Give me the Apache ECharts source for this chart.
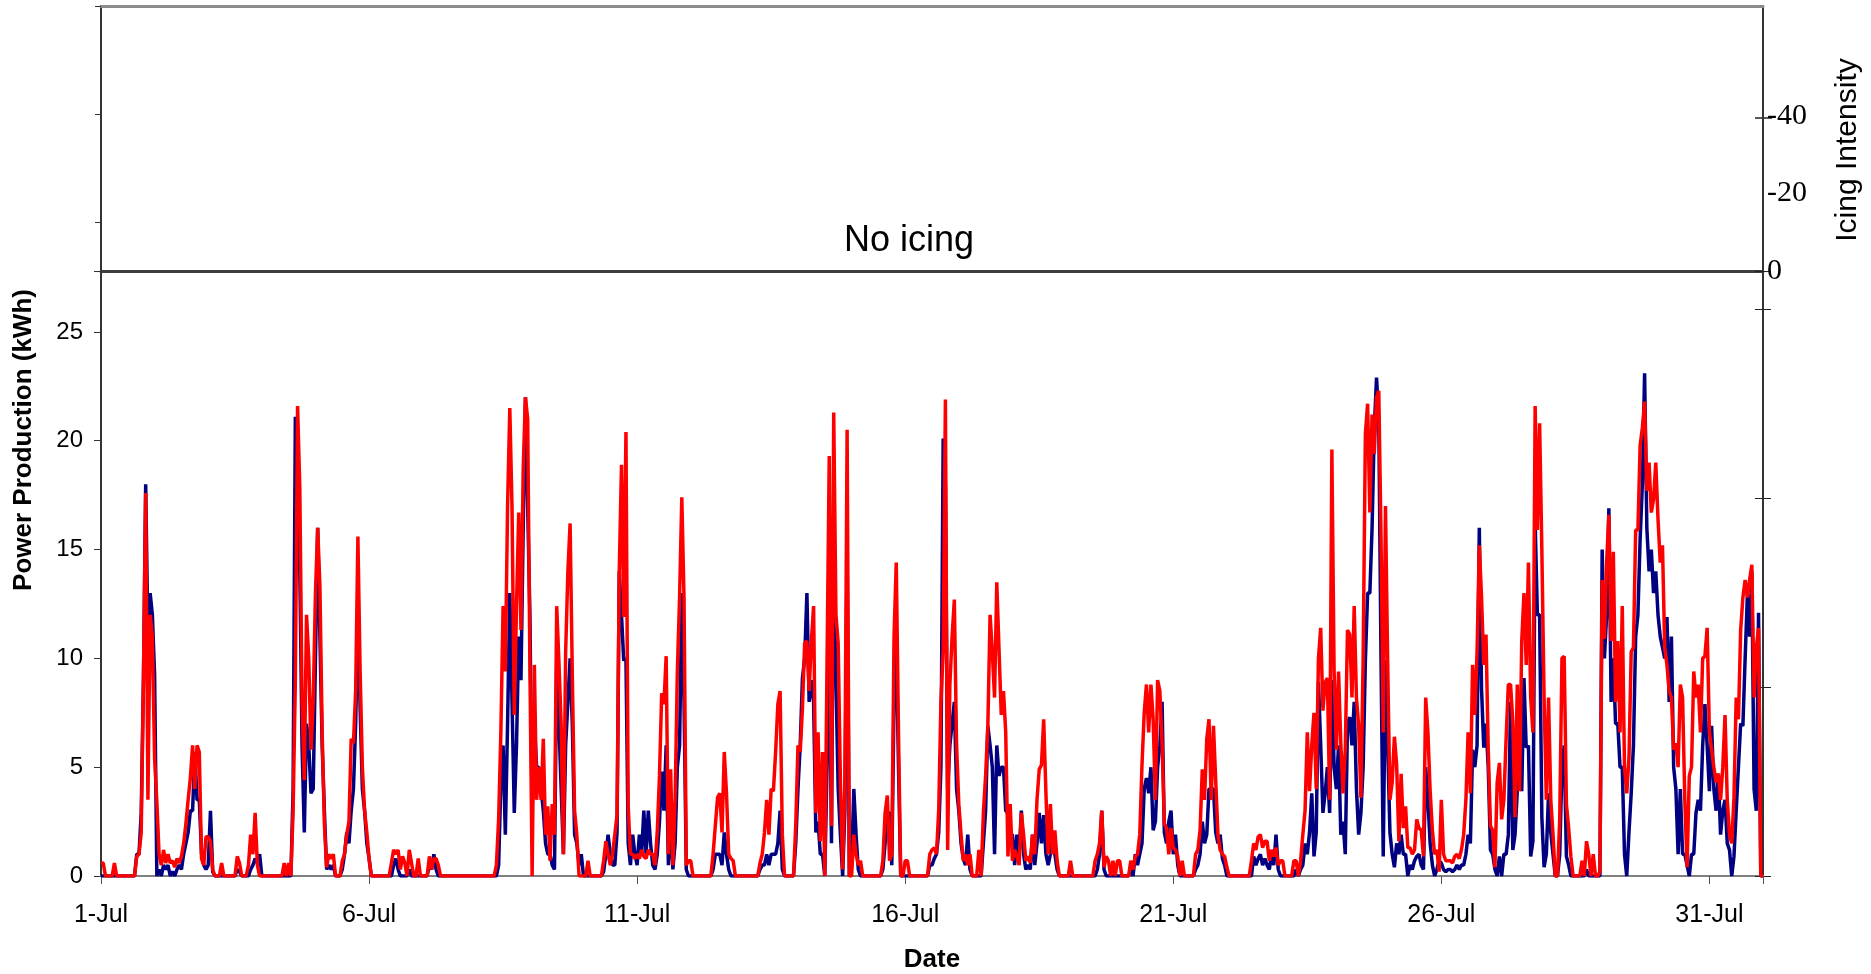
<!DOCTYPE html>
<html>
<head>
<meta charset="utf-8">
<title>Power production and icing, July</title>
<script src="https://cdn.jsdelivr.net/npm/echarts@6.0.0/dist/echarts.min.js"></script>
<style>
  html, body { margin: 0; padding: 0; background: #fff; }
  #chart { width: 1871px; height: 974px; }
</style>
</head>
<body>
<div id="chart"></div>
<script>
// hourly values, starting 1-Jul 00:00 (one row = one day)
const stepHours = 1;
const dateTicks = ['1-Jul', '6-Jul', '11-Jul', '16-Jul', '21-Jul', '26-Jul', '31-Jul'];
const icingTicks = ['0', '-20', '-40'];

// navy series (drawn underneath)
const productionBlue = [
  0,0,0,0,0,0,0,0,0,0,0,0,0,0,0,0,1.0,1.0,2.9,9,18,11,13,12,
  9.2,0,0.3,0,0.5,0.3,0.5,0,0.2,0,0.3,0.5,0.3,1.0,1.5,2,3.0,3.0,5.7,3.5,3.5,1.0,0.5,0.3,
  0.5,3.0,0.2,0,0,0,0,0,0,0,0,0,0,0.3,0.2,0,0,0,0,0.3,0.5,0.8,0.6,1.0,
  0,0,0,0,0,0,0,0,0,0,0,0,0,0,4,21.1,19,14,6,2.0,7,6,3.8,4,
  10,16,11,6,3,0.3,0.5,0.3,0.5,0,0,0,0.3,1.0,2.0,1.5,3.0,4.0,7.0,12,7.7,4,3,1.5,
  0.8,0,0,0,0,0,0,0,0,0,0,0.5,0.8,0.3,0,0,0,0,0.3,0,0,0,0,0,
  0,0,0,0.5,0.3,1.0,0.3,0,0,0,0,0,0,0,0,0,0,0,0,0,0,0,0,0,
  0,0,0,0,0,0,0,0,0,0,0.5,4.3,6,1.9,7,13,8,2.9,6,11,9,16,22,17,
  12,3,7,5,5,4,3,1.5,1.0,1.0,0.5,0.3,9.8,7,4,1.0,6,8,10,6.9,1.9,1.5,0.5,1.0,
  0,0,0,0,0,0,0,0,0,0.2,1.0,1.9,1.0,0.5,0.5,2.0,14,12,9.9,10,1.5,0.5,1.9,1.0,
  0.5,1.9,1.0,3.0,1.0,3.0,1.5,0.5,0.3,1.0,2.5,4.8,3,6,0.5,2.5,0.3,1.5,5,6,13,8,0.3,0,
  0,0,0,0,0,0,0,0,0,0,0.3,1.0,1.0,1.0,0.5,2,1.0,0.3,0,0,0,0,0,0,
  0,0,0,0,0,0,0,0.3,0.5,0.5,1.0,0.5,1.0,1.0,1.0,1.5,3.0,0.3,0,0,0,0,0,1.5,
  4,6,9.1,10,13,8,9,8,2,2.5,1.0,1.0,0,5,12,1.5,17.5,9,4,1.9,0,3,15,0,
  0.5,4,1.9,0.3,0,0,0,0,0,0,0,0,0,0,0.3,1.5,2.9,2.9,0.5,8,11,5,0,0,
  0,0,0,0,0,0,0,0,0,0,0,0.5,0.5,0.8,1.0,2,5,20.1,18,4,6,7,8,4,
  3,1.5,0.8,0.5,1.9,0.3,0,0,0,0,0,1.5,3,6.9,6,5,1.0,6,4.6,5,5,3,2.9,1.9,
  1.9,0.5,1.9,1.0,3,1.0,0.3,0.5,0.3,1.9,0.5,1.5,2.9,1.5,2.8,1.0,0.5,1.0,1.9,1.0,0.3,0,0,0,
  0,0,0,0,0,0,0,0,0,0,0,0,0,0,0.3,1.0,3,0.3,0,0,0,0,0,0,
  0,0,0,0,0,0.3,0,1.0,0.5,1.0,1.5,4,4.5,3.8,5,2.1,2.5,5,6,8,2.0,1.5,2.5,3,
  1.0,1.9,0.5,0,0,0,0,0,0,0,0.3,0.5,1.0,2.5,1.5,1.9,4,4,4,2,1.5,1.9,0.8,0.5,
  0,0,0,0,0,0,0,0,0,0,0,0,0.9,0.5,0.8,1.0,0.5,0.8,0.5,0.3,1.0,0.5,1.9,0.3,
  0,0,0,0,0,0,0,0.3,0,0.3,0.5,1.5,1.0,2,3.8,0.9,2,8.9,6,2.9,3.8,5,2.9,9,
  5,4,6,1.9,2.5,1.0,7,7.3,6,8,4,1.9,2.9,5,9.9,13,13,16,20.6,22.9,21,10,0.9,9.9,
  6,2,1.0,0.4,1.5,1.0,1.9,1.0,1.0,0,0.5,0.3,0.7,0.9,1.0,0.5,0.3,5,3.5,1.5,0.5,0,0.3,0.7,
  0.6,0.3,0.2,0.3,0.3,0.2,0.3,0.5,0.3,0.5,0.5,1.0,1.9,1.5,5.8,5,6,16,8.6,5.9,7,5,1.2,1.0,
  0.3,0,0.9,0,1.0,1.0,1.9,8,1.2,1.9,3.9,5.8,3.9,9.1,5.9,6,0.9,1.6,16.3,12,12,2.7,0.4,1.0,
  3.8,2,1.0,0,0,1.0,5,6,0.9,0.5,0,0,0,0,0,0,0,0.3,0,0,0,0,0,0,
  15,10,12,16.9,8,10,7,7,5,5,1.0,0,2,3.8,6,11,12,15.5,18,23.1,16,14,15,13,
  14,12,11,10.5,10,11.9,8,11,5,4,1.0,4,1.0,1.0,0.5,0,1.0,1.0,2.9,3.5,3.0,6,7.9,6,
  3.9,6.9,4,3,4.7,1.9,3,3.5,1.5,1.2,0,0.9,3.0,5,7,6.9,10,12.9,11,14,4,3,12.1,0,
  0
];

// red series (drawn on top)
const productionRed = [
  0.6,0.6,0,0,0,0,0.6,0,0,0,0,0,0,0,0,0,0.9,1.0,2.0,9,17.6,3.5,12,11,
  5.4,3.4,1.0,0.5,1.2,0.6,1.0,0.6,0.7,0.4,0.8,0.6,0.9,1.5,2.4,3.5,4.5,6.0,4.0,6.0,5.7,0.8,0.5,1.8,
  1.8,1.6,0.3,0,0,0,0.6,0,0,0,0,0,0,0.9,0.6,0,0,0,0.5,1.9,1.0,2.9,0.5,0,
  0,0,0,0,0,0,0,0,0,0,0.6,0,0.6,0,3,9,21.6,17.8,8,4.4,12,10,5.8,8,
  13,16,13.3,6.6,2.4,0.4,1.0,0.8,1.0,0,0,0,0.7,1.0,1.9,2.5,6.3,6.1,8.5,15.6,9.4,5,3,2,
  0.8,0,0,0,0,0,0,0,0,0,0.6,1.2,1.0,1.2,0.3,0.9,0.6,0,1.2,0.6,0,0,0.8,0,
  0,0,0,0.9,0.3,0.8,0.8,0.5,0,0,0,0,0,0,0,0,0,0,0,0,0,0,0,0,
  0,0,0,0,0,0,0,0,0,0.5,2.6,6.6,12.4,9.4,17,21.5,16.9,7.4,12.4,16.7,11.3,18.7,22,21,
  9.7,0,9.7,3.5,5,3.5,6.3,1.9,3.2,0.7,3.3,1.9,12.4,9.8,6.9,1.0,10.3,14,16.2,9.1,3,1.9,0,0,
  0,0,0.7,0,0,0,0,0,0,0.7,1.6,1.0,0.5,1.0,1.9,2.8,14,18.9,11.9,20.4,3.2,1.0,1.0,0.8,
  1.0,0.8,1.2,0.9,0.8,1.2,1.0,1.0,0.5,2.0,4.6,8.4,7.9,10.1,1.0,4.9,0.5,3.5,9.4,12.8,17.4,12.7,0.5,0.7,
  0.7,0,0,0,0,0,0,0,0,0,1.0,2.3,3.6,3.8,2.0,5.7,3.8,1.0,0.8,0.7,0,0,0,0,
  0,0,0,0,0,0,0,0.6,1.0,2.0,3.5,1.9,4,3.9,5.7,7.9,8.5,1.9,0,0,0,0,0,2.3,
  6,5.7,7.7,10.7,10.8,8.5,10.8,12.4,2.9,6.6,1.6,5.7,0,9.7,19.3,2.3,21.3,12,10.7,4.3,0.3,4.3,20.5,0,
  0,1.9,1.0,0.5,0.7,0,0,0,0,0,0,0,0,0,0.7,2.9,3.7,0.7,1.0,11,14.4,6.6,0,0,
  0.7,0.7,0,0,0,0,0,0,0,0,0,1.0,1.2,1.3,1.0,3,8,10.3,21.9,1.2,8.8,11,12.7,6,
  3.3,1.9,0.7,1.0,0.5,1.0,0,0,0,1.2,0,2.9,4.6,6.9,12,10.3,8.2,13.5,10.4,7.4,8.5,6.6,0.9,3.3,
  0.7,1.2,0.9,0.5,2.9,1.9,0.7,0.9,0.6,1.9,1.0,3.5,4.9,5.1,7.2,3.8,1.0,3.3,1.0,2.1,0.7,0,0,0,
  0,0,0.7,0,0,0,0,0,0,0,0,0,0,0.7,1.0,1.5,3,0.4,0.9,0.7,0,0.7,0,0.7,
  0.7,0,0,0,0,0.7,0.3,0.9,1.0,1.9,5.1,7.5,8.8,6.6,8.8,7.2,3.5,9.0,8.5,6.1,2.4,2.2,1.0,2.2,
  1.3,1.2,0.9,0,0.7,0,0,0,0,0,1.0,1.2,2.1,4.9,3.5,6.3,7.2,3.5,6.9,4.4,1.9,1.2,1.0,0.9,
  0.4,0,0,0,0,0,0,0,0,0,0,0.7,1.5,1.2,1.8,1.9,1.3,1.6,1.6,0.7,1.2,0.9,1.3,0.5,
  0.7,0.7,0,0,0,0,0.7,0.7,0,0.7,1.9,3,6.6,3.9,6,7.5,4.0,10,11.4,7.6,8.9,9.1,3.5,19.6,
  9.4,5.8,9.4,6.1,3.8,5.8,11.3,11.1,8.2,12.4,8.2,6.9,3.6,10,20.3,21.7,16.7,21.2,19.4,22,22.3,15.6,6.6,17,
  9.7,3.5,4.3,6.4,5.1,1.6,4.7,2.2,3.2,1.3,1.3,1.0,1.2,2.6,2.2,2.1,0.9,8.2,6.6,3.9,2.1,1.0,1.2,0.2,
  3.5,1.0,0.7,0.7,0.7,0.6,0.9,1.0,0.8,1.2,1.9,3.5,6.6,3.8,9.7,7.4,10.3,15.2,12.8,9.7,11.1,5.8,2.3,2.1,
  0.4,4.3,5.2,2.6,3.5,6.3,8.8,8.8,7.1,2.7,8.8,3.9,10.8,13,9.7,14.4,8.2,6.6,21.6,15.9,20.8,15,8.2,3.5,
  8.2,3.5,1.9,0,0,2.6,10,10.1,3.3,2.2,0.9,0,0,0,0,0.7,0,1.6,1.0,0,1.0,0,0,0.2,
  13.6,10.9,14.4,16.6,10.8,14.9,8,10.8,6.6,12.4,5,3.8,5.4,10.3,10.5,15.9,15.9,19.8,20.6,21.8,17.7,19,16.7,17.3,
  19,16.4,14.4,15.2,10.5,9.7,8.5,8.2,5.8,6.1,5,8.8,8.2,3.5,0.4,4.6,5,9.4,8.2,8.8,6.6,10,10.1,11.4,
  6.6,5.8,5,4.3,4.7,3.5,5,7.4,3.5,1.9,1.5,3.6,8.2,7.2,11.3,12.8,13.6,12.8,13.6,14.3,8.2,10.5,11.4,0,
  0
];

function toPoints(values) {
  return values.map(function (v, i) { return [i * stepHours / 24, v]; });
}

const sans = '"Liberation Sans", Arial, sans-serif';
const serif = '"Liberation Serif", "Times New Roman", serif';

var chart = echarts.init(document.getElementById('chart'));

var option = {
  animation: false,
  backgroundColor: '#ffffff',
  grid: [
    { left: 101, right: 108, top: 6, height: 265, outerBoundsMode: 'none' },
    { left: 101, right: 108, top: 271, height: 605, outerBoundsMode: 'none' }
  ],
  xAxis: [
    {
      // bottom edge of the icing panel
      gridIndex: 0, type: 'value', min: 0, max: 31, position: 'bottom',
      axisLine: { onZero: false, lineStyle: { color: '#3c3c3c', width: 3 } },
      axisTick: { show: false }, axisLabel: { show: false }, splitLine: { show: false }
    },
    {
      // top frame line
      gridIndex: 0, type: 'value', min: 0, max: 31, position: 'top',
      axisLine: { onZero: false, lineStyle: { color: '#8c8c8c', width: 3 } },
      axisTick: { show: false }, axisLabel: { show: false }, splitLine: { show: false }
    },
    {
      gridIndex: 1, type: 'value', min: 0, max: 31, interval: 5,
      name: 'Date', nameLocation: 'middle', nameGap: 71,
      nameTextStyle: { fontFamily: sans, fontSize: 26, fontWeight: 'bold', color: '#000' },
      axisLine: { onZero: false, lineStyle: { color: '#808080', width: 2 } },
      axisTick: { length: 8, lineStyle: { color: '#555' } },
      axisLabel: {
        margin: 27, fontFamily: sans, fontSize: 25, color: '#000',
        formatter: function (v) { return dateTicks[v / 5] || ''; }
      },
      splitLine: { show: false }
    }
  ],
  yAxis: [
    {
      // unlabelled left axis of the icing panel
      gridIndex: 0, type: 'value', inverse: true, min: 0, max: 265, interval: 108,
      axisLine: { show: true, onZero: false, lineStyle: { color: '#333', width: 2 } },
      axisTick: { length: 6, lineStyle: { color: '#333' } },
      axisLabel: { show: false }, splitLine: { show: false }
    },
    {
      gridIndex: 0, type: 'value', position: 'right', min: 0, max: 68.4, interval: 20,
      axisLine: { show: true, onZero: false, lineStyle: { color: '#333', width: 2 } },
      axisTick: { show: false },
      axisLabel: {
        margin: 4, fontFamily: serif, fontSize: 30, color: '#000',
        formatter: function (v) { return icingTicks[v / 20] || ''; }
      },
      splitLine: { show: false }
    },
    {
      gridIndex: 1, type: 'value', min: 0, max: 27.8, interval: 5,
      axisLine: { show: true, onZero: false, lineStyle: { color: '#333', width: 2 } },
      axisTick: { length: 7, lineStyle: { color: '#333' } },
      axisLabel: {
        margin: 18, fontFamily: sans, fontSize: 24, color: '#000',
        formatter: function (v) { return v % 5 === 0 ? String(v) : ''; }
      },
      splitLine: { show: false }
    },
    {
      // right axis of the power panel, ticks only
      gridIndex: 1, type: 'value', position: 'right', min: 0, max: 3.2, interval: 1,
      axisLine: { show: true, onZero: false, lineStyle: { color: '#333', width: 2 } },
      axisTick: { length: 8, lineStyle: { color: '#222' } },
      axisLabel: { show: false }, splitLine: { show: false }
    },
    {
      gridIndex: 1, type: 'value', position: 'right', min: 0, max: 3.2, interval: 1,
      axisLine: { show: false, onZero: false },
      axisTick: { inside: true, length: 8, lineStyle: { color: '#222' } },
      axisLabel: { show: false }, splitLine: { show: false }
    }
  ],
  graphic: [
    {
      type: 'text', x: 909, y: 241,
      style: { text: 'No icing', font: '36px ' + sans, fill: '#000', align: 'center', verticalAlign: 'middle' }
    },
    {
      type: 'text', x: 24, y: 440, rotation: Math.PI / 2,
      style: { text: 'Power Production (kWh)', font: 'bold 26px ' + sans, fill: '#000', align: 'center', verticalAlign: 'middle' }
    },
    {
      type: 'text', x: 1848, y: 150, rotation: Math.PI / 2,
      style: { text: 'Icing Intensity', font: '30px ' + sans, fill: '#000', align: 'center', verticalAlign: 'middle' }
    },
    {
      // tick crossing the right axis at -40
      type: 'line', shape: { x1: 1755, y1: 118, x2: 1772, y2: 118 },
      style: { stroke: '#222', lineWidth: 1.5 }
    }
  ],
  series: [
    {
      type: 'line', xAxisIndex: 2, yAxisIndex: 2,
      showSymbol: false, symbol: 'none',
      lineStyle: { color: '#000080', width: 3.5 },
      data: toPoints(productionBlue)
    },
    {
      type: 'line', xAxisIndex: 2, yAxisIndex: 2,
      showSymbol: false, symbol: 'none',
      lineStyle: { color: '#ff0000', width: 3.5 },
      data: toPoints(productionRed)
    }
  ]
};

chart.setOption(option);
</script>
</body>
</html>
